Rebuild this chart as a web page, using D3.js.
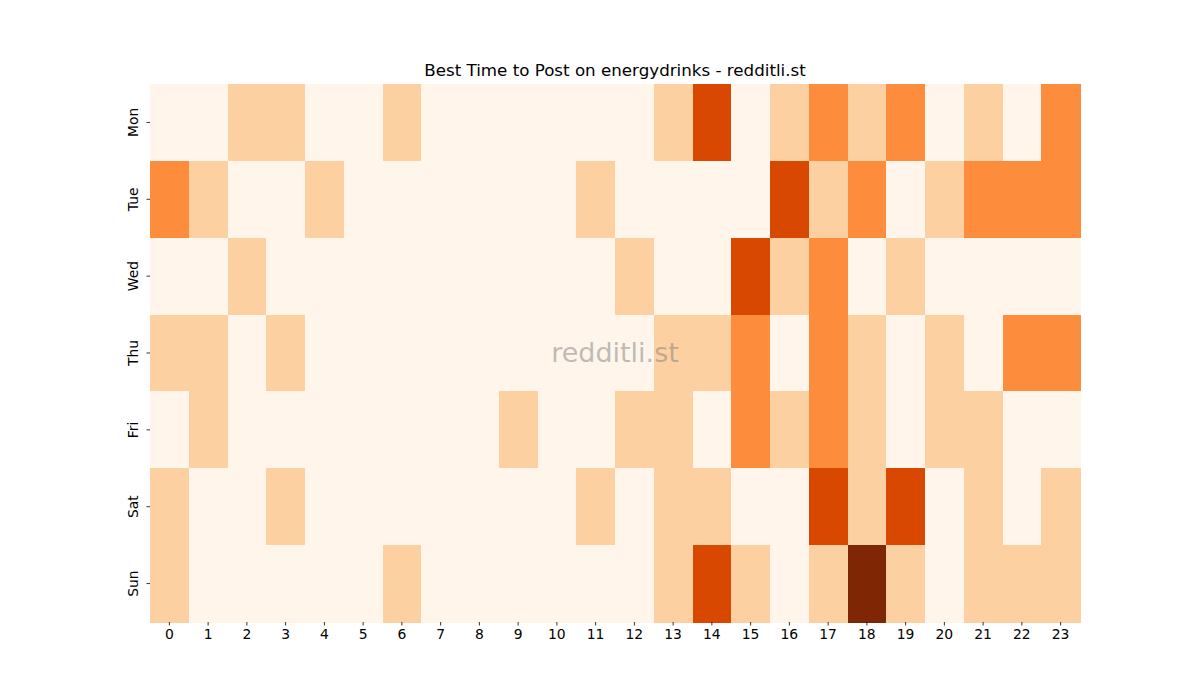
<!DOCTYPE html>
<html>
<head>
<meta charset="utf-8">
<script src="https://cdn.jsdelivr.net/npm/d3@7"></script>
<style>
    body { margin: 0; background: #fff; }
    svg text { font-family: "DejaVu Sans", sans-serif; fill: #000; }
</style>
</head>
<body>
<svg id="chart"></svg>
<script>
// 数据
const days = ['Mon', 'Tue', 'Wed', 'Thu', 'Fri', 'Sat', 'Sun'];
const hours = d3.range(24);

const mon = [0, 0, 1, 1, 0, 0, 1, 0, 0, 0, 0, 0, 0, 1, 3, 0, 1, 2, 1, 2, 0, 1, 0, 2];
const tue = [2, 1, 0, 0, 1, 0, 0, 0, 0, 0, 0, 1, 0, 0, 0, 0, 3, 1, 2, 0, 1, 2, 2, 2];
const wed = [0, 0, 1, 0, 0, 0, 0, 0, 0, 0, 0, 0, 1, 0, 0, 3, 1, 2, 0, 1, 0, 0, 0, 0];
const thu = [1, 1, 0, 1, 0, 0, 0, 0, 0, 0, 0, 0, 0, 1, 1, 2, 0, 2, 1, 0, 1, 0, 2, 2];
const fri = [0, 1, 0, 0, 0, 0, 0, 0, 0, 1, 0, 0, 1, 1, 0, 2, 1, 2, 1, 0, 1, 1, 0, 0];
const sat = [1, 0, 0, 1, 0, 0, 0, 0, 0, 0, 0, 1, 0, 1, 1, 0, 0, 3, 1, 3, 0, 1, 0, 1];
const sun = [1, 0, 0, 0, 0, 0, 1, 0, 0, 0, 0, 0, 0, 1, 3, 1, 0, 1, 4, 1, 0, 1, 1, 1];
const rows = [mon, tue, wed, thu, fri, sat, sun];

// Oranges 色带
const oranges = ['#fff5eb', '#fee6ce', '#fdd0a2', '#fdae6b', '#fd8d3c', '#f16913', '#d94801', '#a63603', '#7f2704'];

const width = 1200, height = 700;
const margin = { top: 84, right: 120, bottom: 78, left: 150 };

const svg = d3.select('#chart')
    .attr('width', width)
    .attr('height', height);

const x = d3.scaleBand()
    .domain(hours)
    .range([margin.left, width - margin.right]);

const y = d3.scaleBand()
    .domain(days)
    .range([margin.top, height - margin.bottom]);

const vmax = d3.max(rows.flat());
const color = d3.scaleLinear()
    .domain(oranges.map((c, i) => i / (oranges.length - 1) * vmax))
    .range(oranges);

// 单元格
const cells = [];
rows.forEach((r, i) => r.forEach((v, h) => cells.push({ day: days[i], hour: h, value: v })));

svg.append('g')
    .selectAll('rect')
    .data(cells)
    .join('rect')
    .attr('x', d => x(d.hour))
    .attr('y', d => y(d.day))
    .attr('width', x.bandwidth() + 0.5)
    .attr('height', y.bandwidth() + 0.5)
    .attr('fill', d => color(d.value))
    .attr('shape-rendering', 'crispEdges');

// 坐标轴
const xAxis = svg.append('g')
    .attr('transform', `translate(0,${height - margin.bottom})`)
    .call(d3.axisBottom(x).tickSize(3.5).tickPadding(4));

const yAxis = svg.append('g')
    .attr('transform', `translate(${margin.left},0)`)
    .call(d3.axisLeft(y).tickSize(3.5).tickPadding(4));

[xAxis, yAxis].forEach(a => {
    a.select('.domain').remove();
    a.selectAll('text').attr('font-size', 13.9).attr('font-family', '"DejaVu Sans", sans-serif');
    a.selectAll('line').attr('stroke', '#000').attr('stroke-width', 0.8);
});

yAxis.selectAll('text')
    .attr('text-anchor', 'middle')
    .attr('dy', null)
    .attr('transform', 'rotate(-90)')
    .attr('x', 0)
    .attr('y', -12);

// 标题
svg.append('text')
    .attr('x', (margin.left + width - margin.right) / 2)
    .attr('y', 76)
    .attr('text-anchor', 'middle')
    .attr('font-size', 16.7)
    .text('Best Time to Post on energydrinks - redditli.st');

// 水印
svg.append('text')
    .attr('x', (margin.left + width - margin.right) / 2)
    .attr('y', (margin.top + height - margin.bottom) / 2)
    .attr('dy', '0.35em')
    .attr('text-anchor', 'middle')
    .attr('font-size', 27)
    .style('fill', '#808080')
    .style('fill-opacity', 0.5)
    .text('redditli.st');
</script>
</body>
</html>
